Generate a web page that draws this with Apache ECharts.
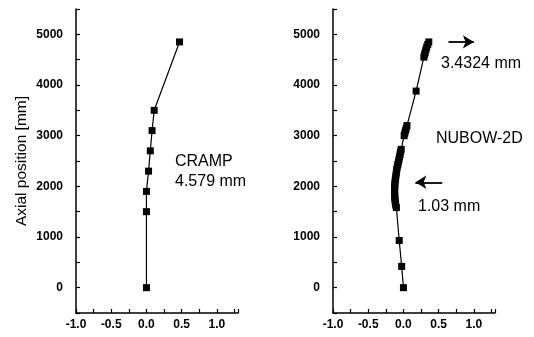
<!DOCTYPE html>
<html><head><meta charset="utf-8">
<script src="https://cdn.jsdelivr.net/npm/echarts@6/dist/echarts.min.js"></script>
<style>html,body{margin:0;padding:0;background:#fff}#c{width:534px;height:337px}</style>
</head><body><div id="c"></div>
<script>
// CRAMP (left panel): displacement [mm] vs axial position [mm]
const crampX = [0.00, 0.00, 0.00, 0.03, 0.055, 0.08, 0.11, 0.47];
const crampY = [0, 1500, 1900, 2300, 2700, 3100, 3500, 4850];
// NUBOW-2D (right panel)
const nubowX = [0.00, -0.025, -0.06, -0.10, -0.11, -0.115, -0.12, -0.122, -0.124, -0.125, -0.125, -0.124, -0.122, -0.12, -0.115, -0.11, -0.105, -0.10, -0.095, -0.088, -0.08, -0.072, -0.064, -0.056, -0.048, -0.04, -0.032, 0.01, 0.02, 0.03, 0.04, 0.05, 0.18, 0.29, 0.30, 0.31, 0.32, 0.33, 0.345, 0.36];
const nubowY = [0, 420, 930, 1580, 1630, 1680, 1730, 1780, 1830, 1880, 1930, 1980, 2030, 2080, 2130, 2180, 2230, 2280, 2330, 2380, 2430, 2480, 2530, 2580, 2630, 2680, 2730, 3000, 3050, 3100, 3150, 3200, 3880, 4550, 4600, 4650, 4700, 4750, 4800, 4850];
const xTicks = ['-1.0', '-0.5', '0.0', '0.5', '1.0'];
const yTicks = ['0', '1000', '2000', '3000', '4000', '5000'];
const annotations = {
  cramp: ['CRAMP', '4.579 mm'],
  nubow: ['NUBOW-2D', '3.4324 mm', '1.03 mm']
};
// arrows in data coordinates (right panel)
const arrowRight = [[0.64, 4850], [1.0, 4850]];
const arrowLeft = [[0.55, 2080], [0.17, 2080]];

const FONT = '"Liberation Sans", Arial, sans-serif';
const pairs = (xs, ys) => xs.map((x, i) => [x, ys[i]]);

function xAxis(gi) {
  return {
    type: 'value', gridIndex: gi, min: -1.0, max: 1.3, interval: 0.25,
    axisLine: { show: true, onZero: false, lineStyle: { color: '#000', width: 1.5 } },
    axisTick: { show: true, inside: true, length: 4, lineStyle: { color: '#000', width: 1.2 } },
    splitLine: { show: false },
    axisLabel: {
      color: '#000', fontFamily: FONT, fontWeight: 'bold', fontSize: 12, margin: 6,
      formatter: v => {
        const s = v.toFixed(1);
        return (Math.abs(v * 2 - Math.round(v * 2)) < 1e-6 && xTicks.indexOf(s) >= 0) ? s : '';
      }
    }
  };
}
function yAxis(gi, name) {
  return {
    type: 'value', gridIndex: gi, min: -500, max: 5500, interval: 500,
    name: name || '', nameLocation: 'middle', nameGap: 46,
    nameTextStyle: { color: '#000', fontFamily: FONT, fontSize: 15.5 },
    axisLine: { show: true, onZero: false, lineStyle: { color: '#000', width: 1.5 } },
    axisTick: { show: true, inside: true, length: 4, lineStyle: { color: '#000', width: 1.2 } },
    splitLine: { show: false },
    axisLabel: {
      color: '#000', fontFamily: FONT, fontWeight: 'bold', fontSize: 12, margin: 13,
      formatter: v => { const s = String(v); return yTicks.indexOf(s) >= 0 ? s : ''; }
    }
  };
}
function txt(x, y, t) {
  return { type: 'text', left: x, top: y, style: { text: t, fill: '#000', font: '16px ' + FONT } };
}

const chart = echarts.init(document.getElementById('c'), null, { renderer: 'canvas' });
chart.setOption({
  animation: false,
  backgroundColor: '#fff',
  grid: [
    { left: 76, top: 9, width: 162, height: 304 },
    { left: 333, top: 9, width: 162, height: 304 }
  ],
  xAxis: [xAxis(0), xAxis(1)],
  yAxis: [yAxis(0, 'Axial position [mm]'), yAxis(1)],
  graphic: [
    txt(175, 154, annotations.cramp[0]),
    txt(175, 174, annotations.cramp[1]),
    txt(436, 131, annotations.nubow[0]),
    txt(441, 56, annotations.nubow[1]),
    txt(418, 199, annotations.nubow[2])
  ],
  series: [
    {
      type: 'line', xAxisIndex: 0, yAxisIndex: 0, data: pairs(crampX, crampY),
      symbol: 'rect', symbolSize: 7, showAllSymbol: true,
      lineStyle: { color: '#000', width: 1.2 }, itemStyle: { color: '#000' }
    },
    {
      type: 'line', xAxisIndex: 1, yAxisIndex: 1, data: pairs(nubowX, nubowY),
      symbol: 'rect', symbolSize: 7, showAllSymbol: true,
      lineStyle: { color: '#000', width: 1.2 }, itemStyle: { color: '#000' },
      markLine: {
        silent: true, symbol: ['none', 'arrow'], symbolSize: [10, 11],
        lineStyle: { color: '#000', width: 1.8, type: 'solid' },
        label: { show: false },
        data: [
          arrowRight.map(c => ({ coord: c })),
          arrowLeft.map(c => ({ coord: c }))
        ]
      }
    }
  ]
});
</script></body></html>
